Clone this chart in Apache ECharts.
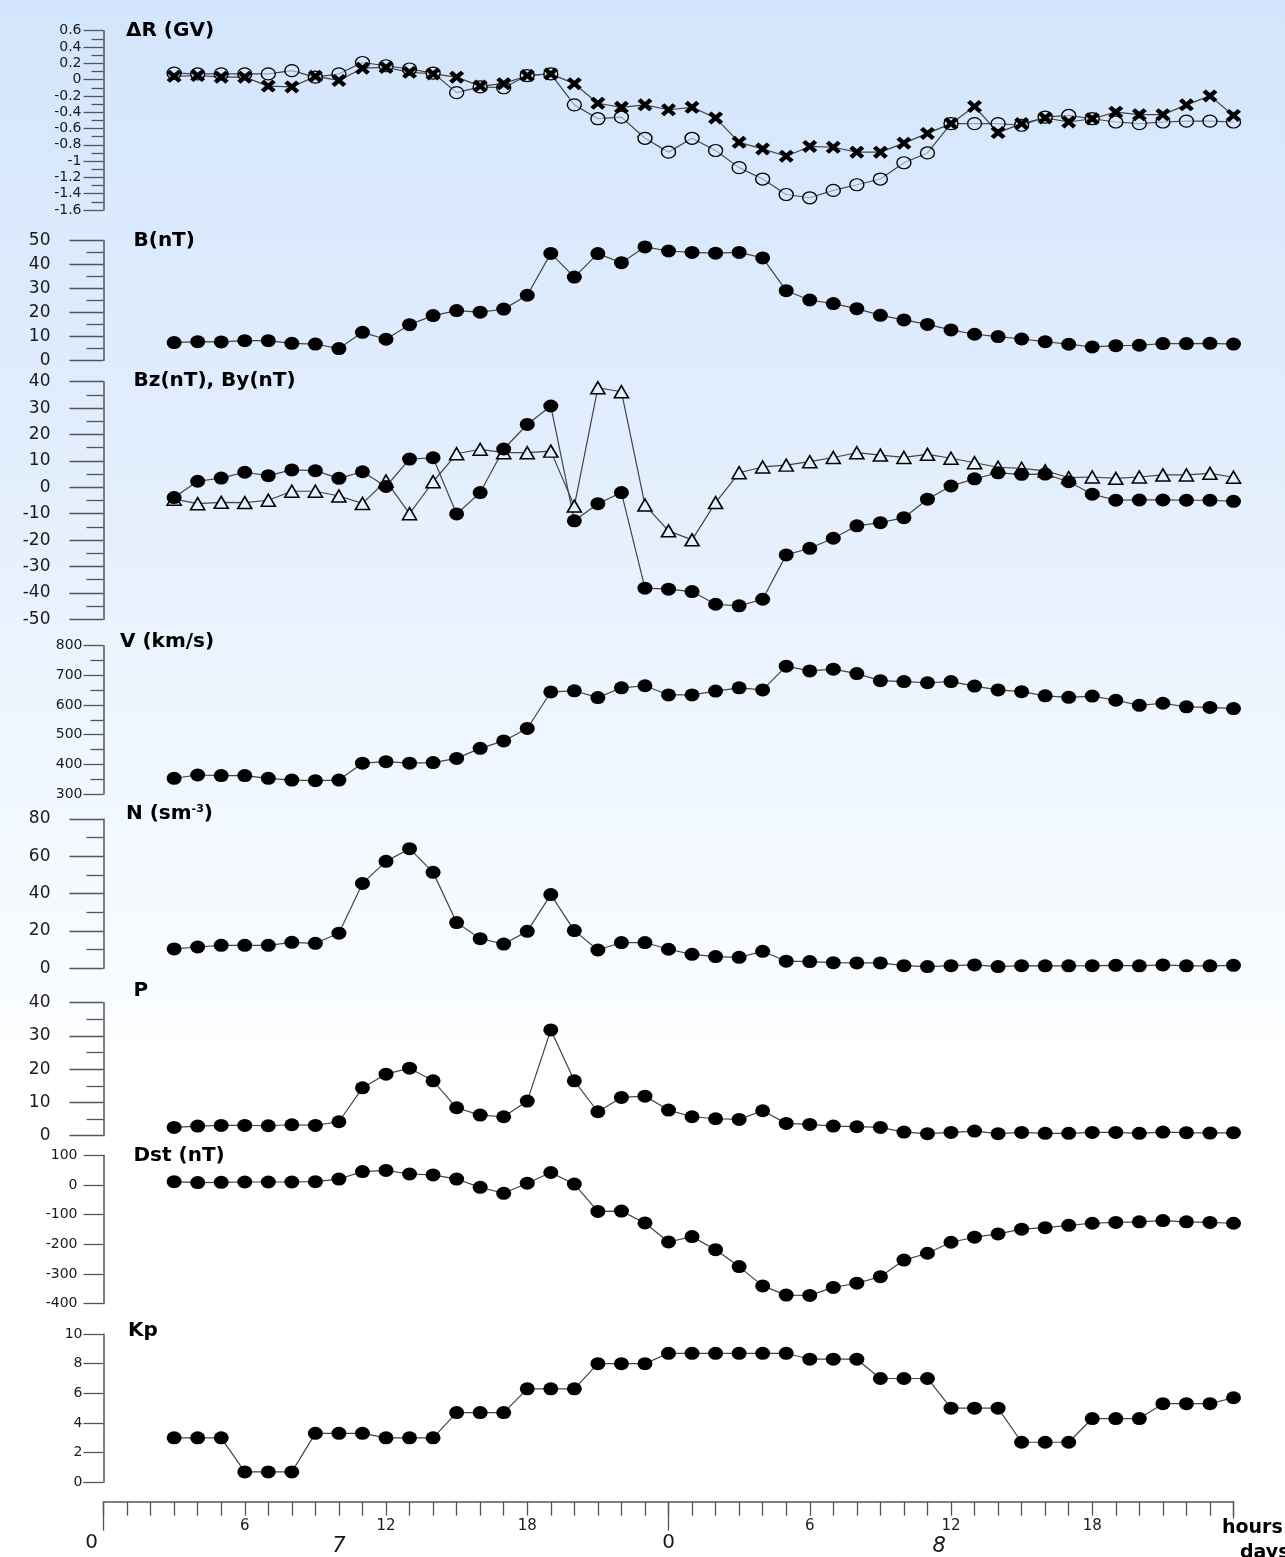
<!DOCTYPE html>
<html>
<head>
<meta charset="utf-8">
<script src="https://cdn.jsdelivr.net/npm/echarts@6/dist/echarts.min.js"></script>
<style>
html,body{margin:0;padding:0;}
#chart{width:1285px;height:1557px;}
</style>
</head>
<body>
<div id="chart"></div>
<script>
// ---- data (hour of 7-8 day period, 0..48) ----
const hours = [3,4,5,6,7,8,9,10,11,12,13,14,15,16,17,18,19,20,21,22,23,24,25,26,27,28,29,30,31,32,33,34,35,36,37,38,39,40,41,42,43,44,45,46,47,48];

const dR_open = [0.08,0.07,0.07,0.07,0.07,0.11,0.03,0.07,0.21,0.17,0.13,0.08,-0.16,-0.09,-0.10,0.05,0.07,-0.31,-0.48,-0.46,-0.72,-0.89,-0.72,-0.87,-1.08,-1.22,-1.41,-1.45,-1.36,-1.29,-1.22,-1.02,-0.90,-0.54,-0.54,-0.54,-0.56,-0.46,-0.44,-0.48,-0.52,-0.54,-0.52,-0.51,-0.51,-0.52];
const dR_cross = [0.04,0.05,0.03,0.03,-0.08,-0.09,0.04,-0.01,0.14,0.15,0.09,0.07,0.03,-0.08,-0.05,0.05,0.07,-0.05,-0.29,-0.34,-0.31,-0.37,-0.34,-0.47,-0.77,-0.85,-0.94,-0.82,-0.83,-0.89,-0.89,-0.78,-0.66,-0.54,-0.33,-0.65,-0.54,-0.47,-0.52,-0.48,-0.40,-0.43,-0.43,-0.31,-0.20,-0.44];
const B = [7.4,7.8,7.7,8.2,8.2,7.1,6.8,4.9,11.7,8.8,14.9,18.7,20.8,20.1,21.4,27.2,44.7,34.8,44.6,40.8,47.4,45.7,45.1,44.8,45.1,42.8,29.1,25.2,23.7,21.6,18.8,16.9,15.0,12.7,10.9,9.9,8.9,7.8,6.7,5.6,6.1,6.3,7.0,7.0,7.1,6.8];
const Bz = [-3.9,2.3,3.5,5.7,4.4,6.6,6.3,3.4,5.9,0.3,10.7,11.2,-10.1,-2.0,14.5,23.8,30.8,-12.7,-6.2,-2.0,-38.2,-38.6,-39.5,-44.3,-44.9,-42.4,-25.6,-23.1,-19.3,-14.6,-13.4,-11.5,-4.5,0.5,3.2,5.5,4.9,5.0,2.1,-2.6,-4.9,-4.8,-4.8,-4.9,-4.9,-5.3];
const By = [-4.5,-6.2,-5.7,-5.8,-4.9,-1.5,-1.5,-3.3,-6.1,2.4,-10.0,2.1,12.7,14.4,13.1,13.1,13.7,-7.1,37.7,36.2,-6.7,-16.5,-19.9,-5.8,5.5,7.7,8.4,9.7,11.3,13.1,12.2,11.3,12.5,11.0,9.3,7.6,7.2,6.2,3.7,3.9,3.4,3.9,4.7,4.7,5.3,3.8];
const V = [353,364,362,362,353,347,345,347,404,409,404,406,420,454,479,521,644,648,625,658,665,634,634,647,658,651,731,715,721,706,682,679,675,679,664,651,645,631,626,630,616,599,606,594,592,588];
const N = [10.4,11.4,12.3,12.3,12.3,13.9,13.4,18.8,45.5,57.3,64.1,51.4,24.5,15.9,13.0,19.8,39.5,20.2,9.8,13.8,13.8,10.2,7.5,6.3,5.9,9.1,3.8,3.6,3.0,2.9,2.9,1.4,0.9,1.4,1.8,0.9,1.4,1.3,1.3,1.4,1.6,1.3,1.8,1.3,1.3,1.6];
const P = [2.5,2.9,3.1,3.1,3.0,3.3,3.1,4.2,14.4,18.5,20.3,16.5,8.4,6.2,5.7,10.4,31.8,16.5,7.2,11.5,11.9,7.7,5.7,5.1,4.9,7.5,3.7,3.4,2.9,2.7,2.5,1.1,0.6,1.0,1.4,0.6,1.0,0.7,0.7,1.0,1.0,0.7,1.1,0.9,0.8,0.9];
const Dst = [11,8,9,10,10,10,11,20,45,49,37,34,20,-8,-28,6,42,3,-89,-88,-128,-192,-174,-218,-275,-340,-371,-372,-345,-331,-309,-253,-230,-193,-176,-165,-149,-144,-136,-129,-126,-124,-120,-124,-126,-129];
const Kp = [3,3,3,0.7,0.7,0.7,3.3,3.3,3.3,3,3,3,4.7,4.7,4.7,6.3,6.3,6.3,8,8,8,8.7,8.7,8.7,8.7,8.7,8.7,8.3,8.3,8.3,7,7,7,5,5,5,2.7,2.7,2.7,4.3,4.3,4.3,5.3,5.3,5.3,5.7];

const panelTitles = ['ΔR (GV)','B(nT)','Bz(nT), By(nT)','V (km/s)','N (sm{sup|-3})','P','Dst (nT)','Kp'];
const hourTickLabels = [6,12,18,30,36,42];
const dayBoundaryLabels = [0,24];
const dayLabelPos = [10,35.5];
const dayLabels = ['7','8'];
// ---------------------------------------

const FONT = 'DejaVu Sans';
const L = 103.5, R = 51.5;
const AXC = '#555';

const panels = [
  {top:30.7, bottom:210,   min:-1.6, max:0.6, interval:0.2, minor:true,  tick:20, mtick:12, margin:22, fs:14, tl:126,   tt:21},
  {top:240.7,bottom:360.3, min:0,    max:50,  interval:10,  minor:true,  tick:34, mtick:17, margin:53, fs:17, tl:133.5, tt:231},
  {top:381.7,bottom:619.3, min:-50,  max:40,  interval:10,  minor:true,  tick:34, mtick:17, margin:53, fs:17, tl:133.5, tt:371},
  {top:645.7,bottom:794,   min:300,  max:800, interval:100, minor:true,  tick:20, mtick:13, margin:21, fs:14, tl:120,   tt:632},
  {top:819,  bottom:968.3, min:0,    max:80,  interval:20,  minor:true,  tick:34, mtick:17, margin:53, fs:17, tl:126,   tt:804},
  {top:1002.7,bottom:1135.7,min:0,   max:40,  interval:10,  minor:true,  tick:34, mtick:17, margin:53, fs:17, tl:133.5, tt:981},
  {top:1155.3,bottom:1303.7,min:-400,max:100, interval:100, minor:false, tick:20, mtick:0,  margin:26, fs:14, tl:133.5, tt:1146},
  {top:1334, bottom:1482.3,min:0,    max:10,  interval:2,   minor:false, tick:20, mtick:0,  margin:21, fs:14, tl:128,   tt:1321},
];

const grid = [], xAxis = [], yAxis = [], title = [];
panels.forEach((p, i) => {
  grid.push({left:L, right:R, top:p.top, height:p.bottom - p.top});
  xAxis.push({type:'value', gridIndex:i, min:0, max:48, show:false});
  yAxis.push({
    type:'value', gridIndex:i, min:p.min, max:p.max, interval:p.interval,
    axisLine:{show:true, lineStyle:{color:AXC, width:1.5}},
    axisTick:{show:true, length:p.tick, lineStyle:{color:AXC, width:1.3}},
    minorTick:{show:p.minor, splitNumber:2, length:p.mtick, lineStyle:{color:AXC, width:1.3}},
    splitLine:{show:false},
    axisLabel:{margin:p.margin, fontSize:p.fs, fontFamily:FONT, color:'#1a1a1a'}
  });
  title.push({
    text: panelTitles[i], left:p.tl, top:p.tt, padding:0,
    textStyle:{fontFamily:FONT, fontSize:20, fontWeight:'bold', color:'#000',
      rich:{sup:{fontFamily:FONT, fontSize:11, fontWeight:'bold', color:'#000', verticalAlign:'top', padding:[0,0,9,0]}}}
  });
});

// bottom time axis grid
const gb = panels.length;
grid.push({left:L, right:R, top:1481.7, height:20});
yAxis.push({type:'value', gridIndex:gb, show:false, min:0, max:1});
xAxis.push({
  type:'value', gridIndex:gb, min:0, max:48, interval:1, position:'bottom',
  axisLine:{show:true, lineStyle:{color:AXC, width:1.5}},
  axisTick:{show:true, length:14, lineStyle:{color:AXC, width:1.3}},
  splitLine:{show:false},
  axisLabel:{show:true, margin:17, fontSize:15, fontFamily:FONT, color:'#1a1a1a',
    customValues: hourTickLabels, formatter: v => String(v % 24)}
});
xAxis.push({
  type:'value', gridIndex:gb, min:0, max:48, position:'bottom',
  axisLine:{show:false}, splitLine:{show:false},
  axisTick:{show:true, length:29, customValues:dayBoundaryLabels, lineStyle:{color:AXC, width:1.3}},
  axisLabel:{show:true, margin:31, fontSize:20, fontFamily:FONT, color:'#1a1a1a',
    customValues: dayBoundaryLabels,
    formatter: v => v === 0 ? '{a|0}' : '{b|0}',
    rich:{a:{fontSize:20, fontFamily:FONT, color:'#1a1a1a', padding:[0,24,0,0]}, b:{fontSize:20, fontFamily:FONT, color:'#1a1a1a'}}}
});
xAxis.push({
  type:'value', gridIndex:gb, min:0, max:48, position:'bottom',
  axisLine:{show:false}, splitLine:{show:false},
  axisTick:{show:true, length:17, customValues:[48], lineStyle:{color:AXC, width:1.3}},
  axisLabel:{show:false}
});
xAxis.push({
  type:'value', gridIndex:gb, min:0, max:48, position:'bottom',
  axisLine:{show:false}, splitLine:{show:false}, axisTick:{show:false},
  axisLabel:{show:true, margin:34, fontSize:21, fontStyle:'italic', fontFamily:FONT, color:'#1a1a1a',
    customValues: dayLabelPos, formatter: v => dayLabels[dayLabelPos.indexOf(v)]}
});

const pairs = arr => hours.map((h, k) => [h, arr[k]]);
const LINE = {color:'#444', width:1.2};
const CROSS = 'path://M0,2.2 L2.2,0 L5,2.8 L7.8,0 L10,2.2 L7.2,5 L10,7.8 L7.8,10 L5,7.2 L2.2,10 L0,7.8 L2.8,5 Z';

function filled(idx, arr) {
  return {type:'line', xAxisIndex:idx, yAxisIndex:idx, data:pairs(arr), clip:false,
    symbol:'circle', symbolSize:[15,13], showAllSymbol:true,
    itemStyle:{color:'#000'}, lineStyle:LINE};
}

const series = [
  {type:'line', xAxisIndex:0, yAxisIndex:0, data:pairs(dR_open), clip:false,
   symbol:'circle', symbolSize:[14,12], showAllSymbol:true,
   itemStyle:{color:'rgba(215,232,252,0.6)', borderColor:'#000', borderWidth:1.3}, lineStyle:LINE},
  {type:'line', xAxisIndex:0, yAxisIndex:0, data:pairs(dR_cross), clip:false,
   symbol:CROSS, symbolSize:[15,13], showAllSymbol:true,
   itemStyle:{color:'#000'}, lineStyle:LINE},
  filled(1, B),
  {type:'line', xAxisIndex:2, yAxisIndex:2, data:pairs(By), clip:false,
   symbol:'triangle', symbolSize:[14,12], showAllSymbol:true,
   itemStyle:{color:'#e6f0fd', borderColor:'#000', borderWidth:1.6}, lineStyle:LINE},
  filled(2, Bz),
  filled(3, V),
  filled(4, N),
  filled(5, P),
  filled(6, Dst),
  filled(7, Kp)
];

const option = {
  animation:false,
  backgroundColor:{type:'linear', x:0, y:0, x2:0, y2:1, colorStops:[
    {offset:0, color:'#d3e5fc'},
    {offset:0.3, color:'#e3eefd'},
    {offset:0.5, color:'#f0f7ff'},
    {offset:0.66, color:'#fbfdff'},
    {offset:0.672, color:'#ffffff'},
    {offset:1, color:'#ffffff'}]},
  title, grid, xAxis, yAxis, series,
  graphic:[
    {type:'text', left:1222, top:1519, style:{text:'hours', font:'bold 19px "DejaVu Sans"', fill:'#000'}},
    {type:'text', left:1240, top:1544, style:{text:'days', font:'bold 19px "DejaVu Sans"', fill:'#000'}}
  ]
};

const chart = echarts.init(document.getElementById('chart'), null, {renderer:'canvas'});
chart.setOption(option);
</script>
</body>
</html>
